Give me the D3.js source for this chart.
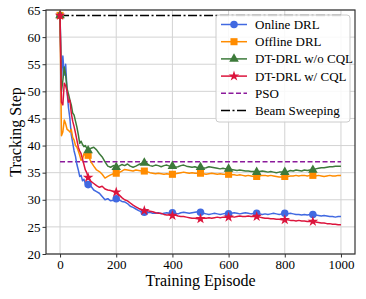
<!DOCTYPE html>
<html>
<head>
<meta charset="utf-8">
<script src="https://cdn.jsdelivr.net/npm/d3@7"></script>
<style>
  body { margin: 0; background: #fff; }
  svg text { font-family: "Liberation Serif", "Times New Roman", serif !important; fill: #000; }
</style>
</head>
<body>
<svg id="chart" width="366" height="299"></svg>
<script>
// episodes (dense at the start, then every 10)
var episodes = [0,5,10,15,20,25,30,35,40,45,50,55,60,65,70,75,80,85,90,95,100,
  110,120,130,140,150,160,170,180,190,200,210,220,230,240,250,260,270,280,290,300,
  310,320,330,340,350,360,370,380,390,400,410,420,430,440,450,460,470,480,490,500,
  510,520,530,540,550,560,570,580,590,600,610,620,630,640,650,660,670,680,690,700,
  710,720,730,740,750,760,770,780,790,800,810,820,830,840,850,860,870,880,890,900,
  910,920,930,940,950,960,970,980,990,1000];

var onlineDRL = [64,52,56.5,53,55,50,47,45,42,40.5,39,38,36.5,35.5,34.3,34.5,33.5,33.8,33,33.3,32.8,
  32.5,31.8,31.5,31.2,30.6,30.0,30.2,29.8,29.9,30.2,30.0,29.7,29.6,29.3,28.8,28.6,28.3,28.0,27.8,27.7,
  27.6,27.7,27.5,27.5,27.6,27.4,27.5,27.6,27.5,27.6,27.5,27.4,27.6,27.7,27.6,27.5,27.6,27.7,27.8,27.7,
  27.5,27.4,27.3,27.4,27.5,27.4,27.3,27.4,27.5,27.4,27.5,27.6,27.5,27.4,27.5,27.6,27.5,27.4,27.5,27.5,
  27.4,27.3,27.4,27.3,27.4,27.5,27.4,27.3,27.4,27.5,27.4,27.5,27.4,27.3,27.3,27.2,27.3,27.2,27.3,27.3,
  27.2,27.1,27.0,27.1,27.0,26.9,26.9,26.8,26.9,26.9];

var offlineDRL = [64,41.8,42.5,44.7,44,43,42.8,42.5,43,41.5,41,40,39.7,39,38.2,37.3,37.5,38.5,38.2,38.5,38.2,
  37.0,36.2,35.5,35.2,34.7,34.0,34.3,34.6,34.8,34.9,35.0,35.3,35.6,35.5,35.4,35.3,35.5,35.4,35.3,35.3,
  35.2,35.0,34.9,34.8,34.9,34.8,34.7,34.8,34.7,34.7,34.8,34.9,35.0,35.1,35.0,34.9,35.0,34.9,34.9,34.9,
  34.8,34.7,34.8,34.9,34.8,34.7,34.8,34.7,34.7,34.7,34.6,34.6,34.5,34.6,34.5,34.4,34.5,34.4,34.3,34.3,
  34.4,34.5,34.5,34.4,34.5,34.4,34.3,34.2,34.2,34.3,34.3,34.4,34.4,34.5,34.4,34.5,34.5,34.4,34.5,34.5,
  34.4,34.5,34.4,34.3,34.4,34.5,34.4,34.4,34.5,34.5];

var dtNoCQL = [64,50,52,54.5,53,50.5,49.5,48.4,47.5,46,45.6,44.5,43.4,42,40.4,40.8,40.2,39.8,40,39.5,39.1,
  39.5,39.7,39.2,38.5,37.9,37.0,36.2,36.0,36.3,36.0,36.2,36.5,36.3,36.6,36.2,36.0,36.2,36.5,36.7,36.8,
  36.6,36.3,36.2,36.4,36.3,36.1,36.3,36.4,36.2,36.2,36.0,36.1,36.3,36.4,36.2,36.1,36.0,36.1,35.9,36.0,
  35.8,35.9,36.1,36.0,35.9,35.8,35.7,35.8,35.7,35.7,35.6,35.5,35.4,35.5,35.4,35.3,35.3,35.2,35.2,35.1,
  35.2,35.3,35.2,35.1,35.2,35.1,35.0,35.1,35.1,35.1,35.2,35.4,35.3,35.5,35.4,35.3,35.5,35.4,35.5,35.5,
  35.7,35.8,35.9,35.9,36.0,36.1,36.1,36.2,36.2,36.2];

var dtCQL = [64,48,47.5,51.5,51,50,48,48.4,46,44.5,43.5,42.3,41,39.7,39,38.5,37.5,36.5,35.5,35,34.1,
  33.4,33,32.6,32.3,32.5,32.0,31.8,31.7,31.5,31.4,30.9,30.4,30.0,29.8,29.4,29.0,28.7,28.4,28.2,28.0,
  28.0,27.9,27.8,27.6,27.5,27.5,27.3,27.2,27.2,27.1,27.2,27.0,26.9,26.9,26.8,26.7,26.6,26.6,26.5,26.5,
  26.6,26.6,26.7,26.6,26.7,26.8,26.7,26.8,26.8,26.8,26.9,26.8,26.9,27.0,26.9,26.9,27.0,26.9,26.9,26.9,
  26.8,26.7,26.6,26.6,26.5,26.5,26.4,26.4,26.3,26.3,26.3,26.2,26.2,26.1,26.2,26.1,26.1,26.0,26.0,26.0,
  25.9,25.8,25.7,25.7,25.6,25.6,25.5,25.5,25.4,25.4];

var psoLevel = 37;
var sweepLevel = 64;

var xTicks = [0,200,400,600,800,1000];
var yTicks = [20,25,30,35,40,45,50,55,60,65];

var series = [
  {name: "Online DRL", values: onlineDRL, color: "#4169e1", marker: "circle"},
  {name: "Offline DRL", values: offlineDRL, color: "#ff8c00", marker: "square"},
  {name: "DT-DRL w/o CQL", values: dtNoCQL, color: "#3d7a3a", marker: "triangle"},
  {name: "DT-DRL w/ CQL", values: dtCQL, color: "#dc143c", marker: "star"}
];

var W = 366, H = 299;
var margin = {top: 10, right: 11, bottom: 45, left: 46};
var svg = d3.select("#chart");

var x = d3.scaleLinear().domain([-50, 1050]).range([margin.left, W - margin.right]);
var y = d3.scaleLinear().domain([20, 65]).range([H - margin.bottom, margin.top]);

// grid
var grid = svg.append("g");
grid.selectAll(".gx").data(xTicks).enter().append("line")
  .attr("x1", function(d){return x(d);}).attr("x2", function(d){return x(d);})
  .attr("y1", y(20)).attr("y2", y(65))
  .attr("stroke", "#d3d3d3").attr("stroke-width", 1);
grid.selectAll(".gy").data(yTicks).enter().append("line")
  .attr("x1", x(-50)).attr("x2", x(1050))
  .attr("y1", function(d){return y(d);}).attr("y2", function(d){return y(d);})
  .attr("stroke", "#d3d3d3").attr("stroke-width", 1);

// reference lines
svg.append("line")
  .attr("x1", x(0)).attr("x2", x(1000)).attr("y1", y(psoLevel)).attr("y2", y(psoLevel))
  .attr("stroke", "#8b1a9b").attr("stroke-width", 1.5).attr("stroke-dasharray", "5,2.5");
svg.append("line")
  .attr("x1", x(0)).attr("x2", x(1000)).attr("y1", y(sweepLevel)).attr("y2", y(sweepLevel))
  .attr("stroke", "#000").attr("stroke-width", 1.5).attr("stroke-dasharray", "9,2.5,2,2.5");

var line = d3.line()
  .x(function(d, i){return x(episodes[i]);})
  .y(function(d){return y(d);});

var symbols = {
  circle: d3.symbol().type(d3.symbolCircle).size(45),
  square: d3.symbol().type(d3.symbolSquare).size(50),
  triangle: d3.symbol().type(d3.symbolTriangle).size(40),
  star: d3.symbol().type(d3.symbolStar).size(35)
};

series.forEach(function(s) {
  svg.append("path").datum(s.values)
    .attr("d", line)
    .attr("fill", "none")
    .attr("stroke", s.color)
    .attr("stroke-width", 1.5)
    .attr("stroke-linejoin", "round");
  var pts = [];
  episodes.forEach(function(e, i){ if (e % 100 === 0 && e < 1000) pts.push([e, s.values[i]]); });
  svg.selectAll(null).data(pts).enter().append("path")
    .attr("d", symbols[s.marker])
    .attr("transform", function(d){return "translate(" + x(d[0]) + "," + y(d[1]) + ")";})
    .attr("fill", s.color);
});

// axes
var xAxis = svg.append("g")
  .attr("transform", "translate(0," + (H - margin.bottom) + ")")
  .call(d3.axisBottom(x).tickValues(xTicks).tickFormat(d3.format("d")).tickSize(3.5).tickPadding(2));
var yAxis = svg.append("g")
  .attr("transform", "translate(" + margin.left + ",0)")
  .call(d3.axisLeft(y).tickValues(yTicks).tickSize(3.5).tickPadding(2));
[xAxis, yAxis].forEach(function(a) {
  a.attr("font-family", "Liberation Serif, serif").attr("font-size", 13);
  a.select(".domain").remove();
  a.selectAll("line").attr("stroke", "#333");
});

// frame
svg.append("rect")
  .attr("x", x(-50)).attr("y", y(65))
  .attr("width", x(1050) - x(-50)).attr("height", y(20) - y(65))
  .attr("fill", "none").attr("stroke", "#333").attr("stroke-width", 1.2);

// labels
svg.append("text")
  .attr("x", (x(-50) + x(1050)) / 2).attr("y", 286)
  .attr("text-anchor", "middle").style("font-size", "16px")
  .text("Training Episode");
svg.append("text")
  .attr("transform", "translate(21," + ((y(20) + y(65)) / 2) + ") rotate(-90)")
  .attr("text-anchor", "middle").style("font-size", "16px")
  .text("Tracking Step");

// legend
var lg = svg.append("g").attr("transform", "translate(216,15)");
lg.append("rect").attr("width", 134).attr("height", 107).attr("rx", 3)
  .attr("fill", "#fff").attr("fill-opacity", 0.85).attr("stroke", "#ccc");
var legendItems = series.map(function(s){return {name: s.name, color: s.color, marker: s.marker, dash: null};})
  .concat([{name: "PSO", color: "#8b1a9b", marker: null, dash: "5,2.5"},
           {name: "Beam Sweeping", color: "#000", marker: null, dash: "9,2.5,2,2.5"}]);
legendItems.forEach(function(d, i) {
  var gy = 9.5 + i * 17.2;
  lg.append("line").attr("x1", 5).attr("x2", 31).attr("y1", gy).attr("y2", gy)
    .attr("stroke", d.color).attr("stroke-width", 1.5)
    .attr("stroke-dasharray", d.dash);
  if (d.marker) {
    lg.append("path").attr("d", symbols[d.marker])
      .attr("transform", "translate(18," + gy + ")").attr("fill", d.color);
  }
  lg.append("text").attr("x", 39).attr("y", gy + 4.5)
    .style("font-size", "13px").text(d.name);
});
</script>
</body>
</html>
